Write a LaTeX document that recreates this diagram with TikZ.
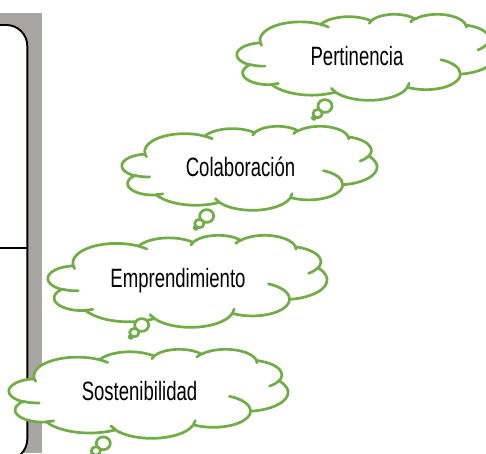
\documentclass[tikz,border=0pt]{standalone}
\usepackage{fontspec}
\newfontfamily\agencyfont[FakeStretch=0.70]{Liberation Sans}
\definecolor{cgreen}{RGB}{112,173,71}
\definecolor{panelgray}{RGB}{169,165,163}
% OOXML-style arcTo (visual angles) converted to TikZ parametric arc
\newcommand\oarc[4]{arc[start angle={atan2((#1)*sin(#3),(#2)*cos(#3))},delta angle={mod(atan2((#1)*sin((#3)+(#4)),(#2)*cos((#3)+(#4)))-atan2((#1)*sin(#3),(#2)*cos(#3))+720,360)},x radius=#1,y radius=#2]}
\newcommand\cloudoutline{(3.9,14.37)
 \oarc{6.753}{9.190}{-190.4875}{123.7805}
 \oarc{5.333}{7.267}{-144.1024}{89.9452}
 \oarc{4.365}{5.945}{-145.8079}{99.7230}
 \oarc{4.857}{6.595}{-130.9861}{117.2417}
 \oarc{5.333}{7.273}{-78.7089}{109.0269}
 \oarc{6.775}{9.220}{-46.2673}{130.2690}
 \oarc{5.785}{7.867}{0.6250}{114.0333}
 \oarc{6.752}{9.215}{22.4516}{115.1726}
 \oarc{7.720}{10.543}{66.2426}{75.7110}
 \oarc{4.360}{5.918}{-274.9421}{146.7356}
 \oarc{4.345}{5.945}{-246.8285}{152.5189}
 -- cycle}
\newcommand\cloudinner{(4.693,26.177) \oarc{4.345}{5.945}{86.742}{26.4295}
 (6.928,34.899) \oarc{4.360}{5.918}{73.6105}{11.4475}
 (16.478,39.090) \oarc{6.752}{9.215}{137.6242}{14.0811}
 (28.827,34.751) \oarc{6.752}{9.215}{6.4533}{15.9984}
 (34.129,22.954) \oarc{5.785}{7.867}{-70.2924}{70.9174}
 (41.798,15.354) \oarc{5.333}{7.273}{30.3180}{27.7515}
 (38.324,5.426) \oarc{4.857}{6.595}{-13.7443}{14.8589}
 (29.078,3.952) \oarc{4.857}{6.595}{-149.1815}{18.1954}
 (22.141,4.720) \oarc{4.365}{5.945}{-163.4943}{17.6864}
 (14.000,5.192) \oarc{6.753}{9.190}{-66.7070}{12.3194}
 (4.127,15.789) \oarc{6.753}{9.190}{157.6544}{11.8582}}
\newcommand\drawcloud[4]{%
  \begin{scope}[shift={(#1,#2)},xscale=#3/43.2,yscale=#4/43.2]
    \filldraw[cloudline,fill=white] \cloudoutline;
    \draw[cloudline] \cloudinner;
  \end{scope}}
\newcommand\drawtail[2]{%
  \filldraw[cloudline,fill=white] (#1,#2) circle[x radius=7,y radius=6.4];
  \filldraw[cloudline,fill=white] ($(#1,#2)+(-7.4,7.6)$) circle[x radius=4.6,y radius=4.2];
  \filldraw[cloudline,fill=white] ($(#1,#2)+(-11,11.8)$) circle[radius=1.9];}
\usetikzlibrary{calc}
\begin{document}
\begin{tikzpicture}[x=1pt,y=1pt,
  cloudline/.style={draw=cgreen,line width=2.7pt,line join=round,line cap=round},
  lbl/.style={font=\agencyfont\fontsize{26.5}{30}\selectfont,anchor=base,inner sep=0pt,text=black}]
\begin{scope}[yscale=-1]
\useasboundingbox (0,0) rectangle (486,453);
\clip (0,0) rectangle (486,453);
% left panel
\fill[panelgray] (0,13) rectangle (41.5,453);
\draw[black,line width=1.9pt,fill=white,rounded corners=21pt] (-40,25) rectangle (27.3,460);
\draw[black,line width=1.9pt] (-2,248) -- (27.3,248);
% clouds
\drawcloud{237}{14}{258}{86}
\drawtail{325}{106}
\node[lbl] (t1) at (357,65) {Pertinencia};
\drawcloud{122}{126}{255}{84}
\drawtail{206.7}{216}
\node[lbl] (t2) at (240.5,176) {Colaboración};
\drawcloud{48}{235}{279}{92}
\drawtail{141.7}{325}
\node[lbl] (t3) at (178,287) {Emprendimiento};
\drawcloud{9}{349}{279}{89}
\drawtail{103.3}{443.3}
\node[lbl] (t4) at (139.5,400) {Sostenibilidad};
\end{scope}
\end{tikzpicture}
\end{document}
